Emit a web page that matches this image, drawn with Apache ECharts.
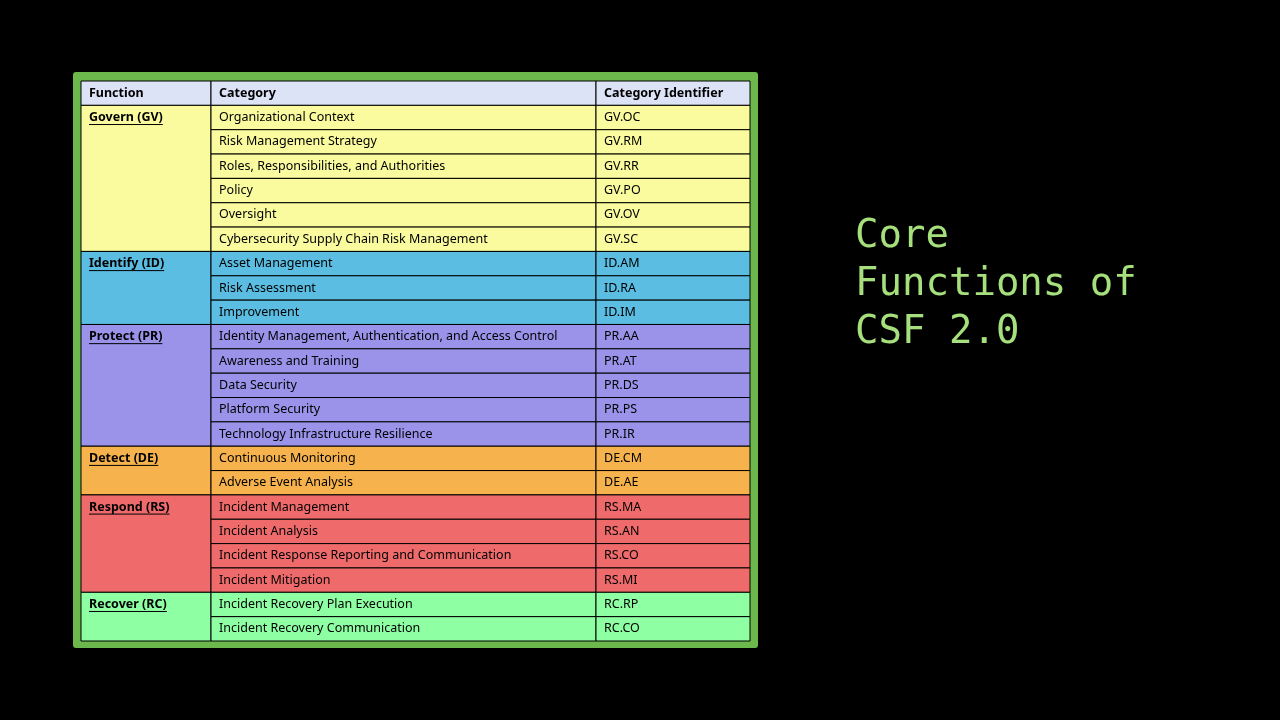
<!DOCTYPE html>
<html>
<head>
<meta charset="utf-8">
<script src="https://cdn.jsdelivr.net/npm/echarts@6/dist/echarts.min.js"></script>
<style>html,body{margin:0;background:#000;}#main{width:1280px;height:720px;}</style>
</head>
<body>
<div id="main"></div>
<script>
const headers = ['Function', 'Category', 'Category Identifier'];
const functions = ['Govern (GV)', 'Identify (ID)', 'Protect (PR)', 'Detect (DE)', 'Respond (RS)', 'Recover (RC)'];
const functionSpans = [6, 3, 5, 2, 4, 2];
const functionColors = ['#fafa9e', '#5bbde2', '#9b92ea', '#f6b24c', '#ef6b6b', '#8effa2'];
const categories = [
  'Organizational Context', 'Risk Management Strategy', 'Roles, Responsibilities, and Authorities', 'Policy', 'Oversight', 'Cybersecurity Supply Chain Risk Management',
  'Asset Management', 'Risk Assessment', 'Improvement',
  'Identity Management, Authentication, and Access Control', 'Awareness and Training', 'Data Security', 'Platform Security', 'Technology Infrastructure Resilience',
  'Continuous Monitoring', 'Adverse Event Analysis',
  'Incident Management', 'Incident Analysis', 'Incident Response Reporting and Communication', 'Incident Mitigation',
  'Incident Recovery Plan Execution', 'Incident Recovery Communication'
];
const identifiers = [
  'GV.OC', 'GV.RM', 'GV.RR', 'GV.PO', 'GV.OV', 'GV.SC',
  'ID.AM', 'ID.RA', 'ID.IM',
  'PR.AA', 'PR.AT', 'PR.DS', 'PR.PS', 'PR.IR',
  'DE.CM', 'DE.AE',
  'RS.MA', 'RS.AN', 'RS.CO', 'RS.MI',
  'RC.RP', 'RC.CO'
];
const colEdges = [0, 130, 515, 669];
const headerColor = '#dde3f6';
const FONT = '"Noto Sans", sans-serif';

// cells: [col, rowStart, rowSpan, text, color, kind]
const cells = [];
headers.forEach((h, i) => cells.push([i, 0, 1, h, headerColor, 'header']));
let row = 1;
functions.forEach((f, g) => {
  cells.push([0, row, functionSpans[g], f, functionColors[g], 'func']);
  for (let k = 0; k < functionSpans[g]; k++) {
    cells.push([1, row + k, 1, categories[row + k - 1], functionColors[g], 'cell']);
    cells.push([2, row + k, 1, identifiers[row + k - 1], functionColors[g], 'cell']);
  }
  row += functionSpans[g];
});

const measure = document.createElement('canvas').getContext('2d');

const chart = echarts.init(document.getElementById('main'));
chart.setOption({
  backgroundColor: '#000',
  title: {
    text: 'Core\nFunctions of\nCSF 2.0',
    left: 850, top: 208,
    textStyle: { color: '#a6e07c', fontFamily: '"DejaVu Sans Mono", monospace', fontSize: 39, fontWeight: 'normal', lineHeight: 48 }
  },
  graphic: [{
    type: 'rect', shape: { x: 73, y: 72, width: 685, height: 576, r: 3 },
    style: { fill: '#6cb84c' }, z: -1
  }],
  grid: { left: 81, right: 530, top: 81, bottom: 79 },
  xAxis: { type: 'value', min: 0, max: 669, show: false },
  yAxis: { type: 'value', min: 0, max: 23, inverse: true, show: false },
  series: [{
    type: 'custom',
    data: cells,
    renderItem: (params, api) => {
      const c = api.value(0), r = api.value(1), span = api.value(2);
      const d = cells[params.dataIndex];
      const p0 = api.coord([colEdges[c], r]);
      const p1 = api.coord([colEdges[c + 1], r + span]);
      const oneRow = api.coord([0, r + 1])[1] - p0[1];
      const bold = d[5] !== 'cell';
      const fs = 12.5;
      const children = [{
        type: 'rect',
        shape: { x: p0[0], y: p0[1], width: p1[0] - p0[0], height: p1[1] - p0[1] },
        style: { fill: d[4], stroke: '#000', lineWidth: 1 }
      }, {
        type: 'text',
        style: {
          x: p0[0] + 8, y: p0[1] + oneRow / 2, text: d[3],
          fill: '#000', font: (bold ? 'bold ' : '') + fs + 'px ' + FONT,
          verticalAlign: 'middle', align: 'left'
        }
      }];
      if (d[5] === 'func') {
        measure.font = 'bold ' + fs + 'px ' + FONT;
        const w = measure.measureText(d[3]).width;
        const uy = p0[1] + oneRow / 2 + 7;
        children.push({ type: 'line', shape: { x1: p0[0] + 8, y1: uy, x2: p0[0] + 8 + w, y2: uy }, style: { stroke: '#000', lineWidth: 1 } });
      }
      return { type: 'group', children };
    }
  }]
});
</script>
</body>
</html>
